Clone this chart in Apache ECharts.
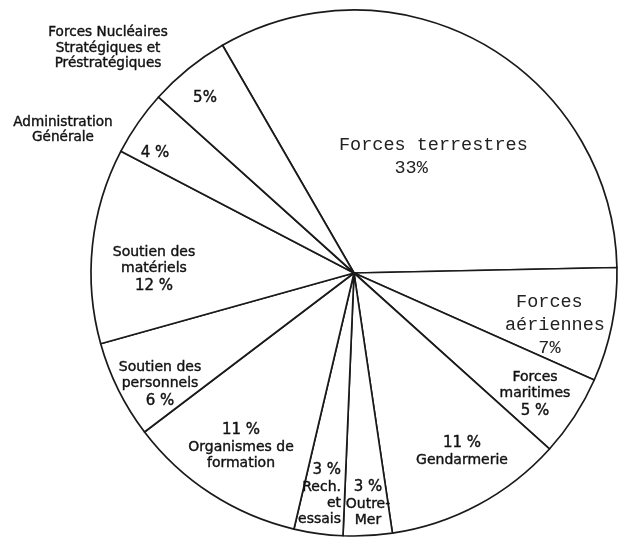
<!DOCTYPE html>
<html>
<head>
<meta charset="utf-8">
<script src="https://cdn.jsdelivr.net/npm/echarts@6/dist/echarts.min.js"></script>
<style>
  html, body { margin: 0; padding: 0; background: #fff; }
  #pie { width: 622px; height: 540px; }
</style>
</head>
<body>
<div id="pie"></div>
<script>
// parts du budget (%), dans le sens des aiguilles d'une montre depuis le haut
const categories = ['Forces terrestres', 'Forces aériennes', 'Forces maritimes', 'Gendarmerie',
  'Outre-Mer', 'Rech. et essais', 'Organismes de formation', 'Soutien des personnels',
  'Soutien des matériels', 'Administration Générale',
  'Forces Nucléaires Stratégiques et Préstratégiques'];
const shares = [33, 7, 5, 11, 3, 3, 11, 6, 12, 4, 5];

// textes dans les parts
const insideText = [
  '{m|Forces terrestres}\n{m|     33%}',
  '{m| Forces}\n{m|aériennes}\n{m|   7%}',
  '{n|Forces}\n{n|maritimes}\n{p|5 %}',
  '{p|11 %}\n{n|Gendarmerie}',
  '{p|3 %}\n{n|Outre-}\n{n|Mer}',
  '{p|3 %}\n{n|Rech.}\n{n|et}\n{n|essais}',
  '{p|11 %}\n{n|Organismes de}\n{n|formation}',
  '{n|Soutien des}\n{n|personnels}\n{p|6 %}',
  '{n|Soutien des}\n{n|matériels}\n{p|12 %}',
  '{p|4 %}',
  '{p|5%}'
];
// textes hors du cercle
const outsideText = ['', '', '', '', '', '', '', '', '',
  'Administration\nGénérale',
  'Forces Nucléaires\nStratégiques et\nPréstratégiques'];

// placement des étiquettes [x, y, align]
const insideSpot = [
  [339, 157, 'left'], [505, 325, 'left'], [535, 395, 'center'], [462, 451, 'center'],
  [368, 503, 'center'], [341, 494, 'right'], [241, 446, 'center'], [160, 385, 'center'],
  [154, 270, 'center'], [155, 153, 'center'], [205, 98, 'center']
];
const outsideSpot = {9: [63, 130], 10: [108, 48]};

const chart = echarts.init(document.getElementById('pie'));

// un léger contour épaissit le trait comme sur l'original imprimé
const sans = { fontFamily: 'DejaVu Sans', color: '#111', textBorderColor: '#111', textBorderWidth: 0.4 };
const rich = {
  m: { fontFamily: 'Liberation Mono', fontSize: 18.5, lineHeight: 23, color: '#222' },
  n: Object.assign({ fontSize: 14, lineHeight: 16 }, sans),
  p: Object.assign({ fontSize: 15, lineHeight: 19 }, sans)
};

const base = {
  type: 'pie',
  center: [354, 273],
  radius: 263,
  startAngle: 120,
  clockwise: true,
  avoidLabelOverlap: false,
  emphasis: { disabled: true },
  animation: false,
  labelLine: { show: false }
};

chart.setOption({
  backgroundColor: '#fff',
  series: [
    Object.assign({}, base, {
      name: 'parts',
      itemStyle: { color: '#fff', borderColor: '#1a1a1a', borderWidth: 1.7 },
      label: { show: true, position: 'inside', rich: rich },
      data: categories.map((c, i) => ({
        name: c, value: shares[i],
        label: { formatter: insideText[i] }
      })),
      labelLayout: (p) => {
        const s = insideSpot[p.dataIndex];
        return { x: s[0], y: s[1], align: s[2], verticalAlign: 'middle' };
      }
    }),
    Object.assign({}, base, {
      name: 'noms',
      silent: true,
      itemStyle: { color: 'transparent', borderWidth: 0 },
      label: Object.assign({
        show: true, position: 'outside', fontSize: 13.6, lineHeight: 15.5
      }, sans),
      data: categories.map((c, i) => ({
        name: c, value: shares[i],
        label: { show: outsideText[i] !== '', formatter: outsideText[i] }
      })),
      labelLayout: (p) => {
        const s = outsideSpot[p.dataIndex];
        if (!s) return {};
        return { x: s[0], y: s[1], align: 'center', verticalAlign: 'middle' };
      }
    })
  ]
});
</script>
</body>
</html>
